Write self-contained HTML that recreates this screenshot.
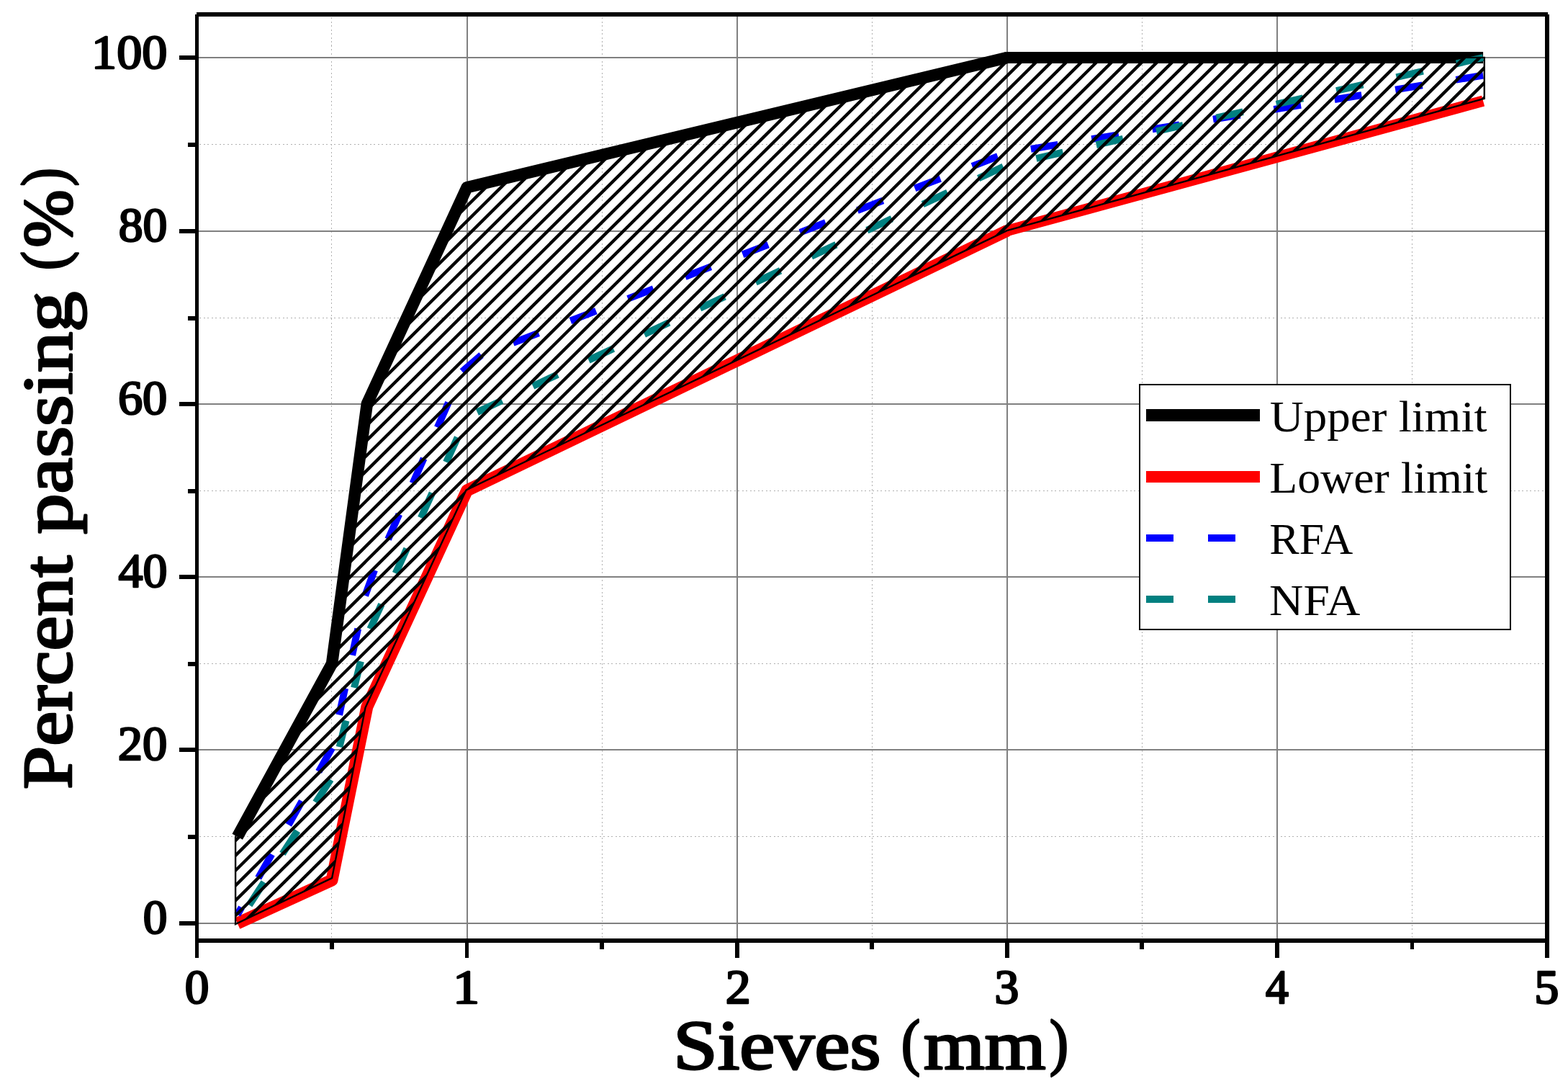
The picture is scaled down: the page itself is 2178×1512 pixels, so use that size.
<!DOCTYPE html>
<html lang="en"><head><meta charset="utf-8"><title>Sieve analysis: percent passing vs sieves</title>
<style>
html,body{margin:0;padding:0;background:#fff;}
body{width:2178px;height:1512px;overflow:hidden;}
svg{display:block;}
text{font-family:"Liberation Serif","DejaVu Serif",serif;fill:#000;}
.tk{font-size:67.3px;stroke:#000;stroke-width:2.6px;stroke-linejoin:round;}
.ti{font-size:98px;stroke:#000;stroke-width:3px;stroke-linejoin:round;}
.lg{font-size:61px;}
</style></head><body>
<svg width="2178" height="1512" viewBox="0 0 2178 1512">
<defs>
<clipPath id="band"><polygon points="327.1,1161.8 460.05,921.4 508.81,560.8 647.6,260.3 1398.8,79.9 2061.8,79.9 2061.8,136.8 1398.8,320.2 647.6,680.3 507.5,982.5 461.1,1219.2 327.1,1283"/></clipPath>
</defs>
<rect x="0" y="0" width="2178" height="1512" fill="#fff"/>
<g stroke="#b0b0b0" stroke-width="1" stroke-dasharray="2 3.5" fill="none" shape-rendering="crispEdges">
<line x1="460.5" y1="24" x2="460.5" y2="1302"/>
<line x1="836.5" y1="24" x2="836.5" y2="1302"/>
<line x1="1211.5" y1="24" x2="1211.5" y2="1302"/>
<line x1="1586.5" y1="24" x2="1586.5" y2="1302"/>
<line x1="1961.5" y1="24" x2="1961.5" y2="1302"/>
<line x1="277" y1="1161.5" x2="2145" y2="1161.5"/>
<line x1="277" y1="921.5" x2="2145" y2="921.5"/>
<line x1="277" y1="681.5" x2="2145" y2="681.5"/>
<line x1="277" y1="441.5" x2="2145" y2="441.5"/>
<line x1="277" y1="200.5" x2="2145" y2="200.5"/>
</g>
<g fill="#808080" shape-rendering="crispEdges">
<rect x="648" y="23" width="2" height="1280"/>
<rect x="1023" y="23" width="2" height="1280"/>
<rect x="1398" y="23" width="2" height="1280"/>
<rect x="1773" y="23" width="2" height="1280"/>
<rect x="276" y="1281" width="1870" height="2"/>
<rect x="276" y="1040" width="1870" height="2"/>
<rect x="276" y="800" width="1870" height="2"/>
<rect x="276" y="560" width="1870" height="2"/>
<rect x="276" y="320" width="1870" height="2"/>
<rect x="276" y="79" width="1870" height="2"/>
</g>
<g fill="none" stroke-linejoin="round" stroke-linecap="butt">
<polyline points="329.76,1161.8 461.05,921.4 509.81,560.8 648.6,260.3 1398.8,80" stroke="#000" stroke-width="16.5"/>
<circle cx="1398.8" cy="80" r="8.1" fill="#000"/>
<polyline points="1398.8,80 2060.1,80" stroke="#000" stroke-width="15.8"/>
<polyline points="329.76,1282 461.05,1221.9 509.81,981.5 648.6,681 1398.8,320.4" stroke="#f00" stroke-width="17"/>
<circle cx="1398.8" cy="320.4" r="8.2" fill="#f00"/>
<polyline points="1398.8,320.4 2060.1,140.1" stroke="#f00" stroke-width="15.4"/>
<path d="M2060.1,104.64L2022.5,110.76M1975.73,118.37L1938.14,124.48M1891.36,132.09L1853.77,138.21M1806.99,145.82L1769.4,151.93M1722.62,159.54L1685.03,165.66M1638.25,173.27L1600.66,179.38M1553.88,186.99L1516.29,193.11M1469.51,200.72L1431.92,206.83M1385.9,217.18L1350.38,230.84M1306.19,247.83L1270.67,261.49M1226.49,278.48L1190.97,292.14M1146.78,309.13L1111.26,322.79M1067.08,339.78L1031.56,353.44M987.37,370.43L951.85,384.09M907.67,401.08L872.15,414.74M827.96,431.73L792.44,445.39M748.26,462.38L712.74,476.04M668.55,493.03L641.91,515.86M622.91,558.87L607.65,593.45M588.65,636.47L573.38,671.05M554.39,714.07L539.12,748.65M520.13,791.67L507.21,827M497.22,872.9L489.2,909.79M479.21,955.69L471.19,992.59M461.2,1038.49L442.7,1071.45M419.43,1112.35L400.73,1145.23M377.46,1186.14L358.76,1219.02M335.49,1259.92L329.76,1269.98" stroke="#00f" stroke-width="9.8"/>
<path d="M2060.1,80L2022.95,88.37M1976.73,98.79L1939.58,107.16M1893.36,117.58L1856.21,125.95M1809.99,136.37L1772.84,144.74M1726.62,155.16L1689.47,163.53M1643.25,173.95L1606.1,182.32M1559.89,192.74L1522.74,201.11M1476.52,211.53L1439.37,219.91M1393.55,231.49L1359.08,247.57M1316.2,267.56L1281.72,283.64M1238.84,303.63L1204.36,319.7M1161.48,339.7L1127,355.77M1084.12,375.77L1049.65,391.84M1006.76,411.84L972.29,427.91M929.4,447.91L894.93,463.98M852.04,483.98L817.57,500.05M774.68,520.04L740.21,536.12M697.32,556.11L662.85,572.19M635.56,607.4L619.87,641.79M600.34,684.57L584.65,718.97M565.12,761.75L549.42,796.14M529.9,838.93L514.2,873.32M501.04,918.28L491.95,954.93M480.64,1000.53L471.54,1037.18M459.19,1082.33L438.6,1114.09M412.99,1153.6L392.41,1185.36M366.8,1224.87L346.21,1256.63" stroke="#008080" stroke-width="9.8"/>
</g>
<g clip-path="url(#band)"><path d="M-416.9,1300L834.88,60M-395.88,1300L855.9,60M-374.85,1300L876.93,60M-353.83,1300L897.95,60M-332.8,1300L918.98,60M-311.78,1300L940,60M-290.75,1300L961.03,60M-269.73,1300L982.05,60M-248.7,1300L1003.08,60M-227.68,1300L1024.11,60M-206.65,1300L1045.13,60M-185.63,1300L1066.15,60M-164.6,1300L1087.18,60M-143.58,1300L1108.21,60M-122.55,1300L1129.23,60M-101.53,1300L1150.26,60M-80.5,1300L1171.28,60M-59.48,1300L1192.31,60M-38.45,1300L1213.33,60M-17.43,1300L1234.36,60M3.6,1300L1255.38,60M24.62,1300L1276.4,60M45.65,1300L1297.43,60M66.67,1300L1318.46,60M87.7,1300L1339.48,60M108.72,1300L1360.51,60M129.75,1300L1381.53,60M150.77,1300L1402.56,60M171.8,1300L1423.58,60M192.82,1300L1444.61,60M213.85,1300L1465.63,60M234.87,1300L1486.65,60M255.9,1300L1507.68,60M276.92,1300L1528.71,60M297.95,1300L1549.73,60M318.97,1300L1570.76,60M340,1300L1591.78,60M361.02,1300L1612.81,60M382.05,1300L1633.83,60M403.07,1300L1654.86,60M424.1,1300L1675.88,60M445.12,1300L1696.9,60M466.15,1300L1717.93,60M487.17,1300L1738.95,60M508.2,1300L1759.98,60M529.22,1300L1781.01,60M550.25,1300L1802.03,60M571.27,1300L1823.06,60M592.3,1300L1844.08,60M613.32,1300L1865.11,60M634.35,1300L1886.13,60M655.37,1300L1907.15,60M676.4,1300L1928.18,60M697.42,1300L1949.2,60M718.45,1300L1970.23,60M739.47,1300L1991.25,60M760.5,1300L2012.28,60M781.52,1300L2033.31,60M802.55,1300L2054.33,60M823.57,1300L2075.35,60M844.6,1300L2096.38,60M865.62,1300L2117.4,60M886.65,1300L2138.43,60M907.67,1300L2159.45,60M928.7,1300L2180.48,60" stroke="#000" stroke-width="4.4" fill="none"/></g>
<polygon points="327.1,1161.8 460.05,921.4 508.81,560.8 647.6,260.3 1398.8,79.9 2061.8,79.9 2061.8,136.8 1398.8,320.2 647.6,680.3 507.5,982.5 461.1,1219.2 327.1,1283" fill="none" stroke="#000" stroke-width="2.4" stroke-linejoin="miter"/>
<g fill="#000" shape-rendering="crispEdges">
<rect x="273" y="17" width="1877" height="6"/>
<rect x="271" y="1303" width="1881" height="6"/>
<rect x="271" y="20" width="5" height="1310"/>
<rect x="2146" y="20" width="6" height="1310"/>
<rect x="646" y="1306" width="5" height="24"/>
<rect x="1021" y="1306" width="6" height="24"/>
<rect x="1396" y="1306" width="6" height="24"/>
<rect x="1771" y="1306" width="6" height="24"/>
<rect x="458" y="1306" width="6" height="12"/>
<rect x="833" y="1306" width="6" height="12"/>
<rect x="1208" y="1306" width="6" height="12"/>
<rect x="1583" y="1306" width="6" height="12"/>
<rect x="1959" y="1306" width="5" height="12"/>
<rect x="249" y="1279" width="24" height="6"/>
<rect x="249" y="1038" width="24" height="6"/>
<rect x="249" y="798" width="24" height="6"/>
<rect x="249" y="558" width="24" height="6"/>
<rect x="249" y="318" width="24" height="6"/>
<rect x="249" y="77" width="24" height="6"/>
<rect x="261" y="1159" width="12" height="6"/>
<rect x="261" y="919" width="12" height="6"/>
<rect x="261" y="679" width="12" height="6"/>
<rect x="261" y="439" width="12" height="6"/>
<rect x="261" y="198" width="12" height="6"/>
</g>
<text class="tk" transform="translate(198.68,1295.9) scale(0.9999,1)">0</text>
<text class="tk" transform="translate(163.74,1054.9) scale(1.0195,1)">20</text>
<text class="tk" transform="translate(164.45,814.9) scale(1.0086,1)">40</text>
<text class="tk" transform="translate(163.91,574.9) scale(1.0168,1)">60</text>
<text class="tk" transform="translate(164.67,334.9) scale(1.0054,1)">80</text>
<text class="tk" transform="translate(127.12,94.9) scale(1.0427,1)">100</text>
<text class="tk" transform="translate(256.68,1393) scale(0.9999,1)">0</text>
<text class="tk" transform="translate(628.93,1393) scale(1.1055,1)">1</text>
<text class="tk" transform="translate(1007.8,1393) scale(1.0400,1)">2</text>
<text class="tk" transform="translate(1381.39,1393) scale(1.0046,1)">3</text>
<text class="tk" transform="translate(1757.96,1393) scale(0.9471,1)">4</text>
<text class="tk" transform="translate(2131.29,1393) scale(1.0139,1)">5</text>
<text class="ti" transform="translate(0,1484.4)"><tspan x="935.27" y="0" textLength="288.14" lengthAdjust="spacingAndGlyphs">Sieves</tspan> <tspan x="1252" y="-8" textLength="26.09" lengthAdjust="spacingAndGlyphs" font-size="87">(</tspan><tspan x="1283" y="0" textLength="169.61" lengthAdjust="spacingAndGlyphs">mm</tspan><tspan x="1457.91" y="-8" textLength="25.86" lengthAdjust="spacingAndGlyphs" font-size="87">)</tspan></text>
<text class="ti" transform="translate(98.5,1094.9) rotate(-90)"><tspan x="-1.1" y="0" textLength="324.64" lengthAdjust="spacingAndGlyphs">Percent</tspan> <tspan x="353.4" y="0" textLength="336.7" lengthAdjust="spacingAndGlyphs">passing</tspan> <tspan x="720.01" y="-8.7" textLength="25.97" lengthAdjust="spacingAndGlyphs" font-size="87">(</tspan><tspan x="751.12" y="0" textLength="80.3" lengthAdjust="spacingAndGlyphs">%</tspan><tspan x="836.33" y="-8.7" textLength="25.19" lengthAdjust="spacingAndGlyphs" font-size="87">)</tspan></text>
<rect x="1583" y="534" width="515.2" height="340" fill="#fff" stroke="#000" stroke-width="2.2" shape-rendering="crispEdges"/>
<g fill="none" stroke-linecap="butt" shape-rendering="crispEdges">
<line x1="1592" y1="576.4" x2="1749.9" y2="576.4" stroke="#000" stroke-width="17"/>
<line x1="1592" y1="661.9" x2="1749.9" y2="661.9" stroke="#f00" stroke-width="16"/>
<line x1="1592" y1="746.9" x2="1749.9" y2="746.9" stroke="#00f" stroke-width="9.8" stroke-dasharray="38 48"/>
<line x1="1592" y1="832" x2="1749.9" y2="832" stroke="#008080" stroke-width="9.8" stroke-dasharray="38 48"/>
</g>
<text class="lg" transform="translate(1763.8,599) scale(1.0670,1)">Upper limit</text>
<text class="lg" transform="translate(1763.18,683.9) scale(1.0465,1)">Lower limit</text>
<text class="lg" transform="translate(1763.14,769) scale(1.0176,1)">RFA</text>
<text class="lg" transform="translate(1763.03,853.9) scale(1.0764,1)">NFA</text>
</svg>
</body></html>
